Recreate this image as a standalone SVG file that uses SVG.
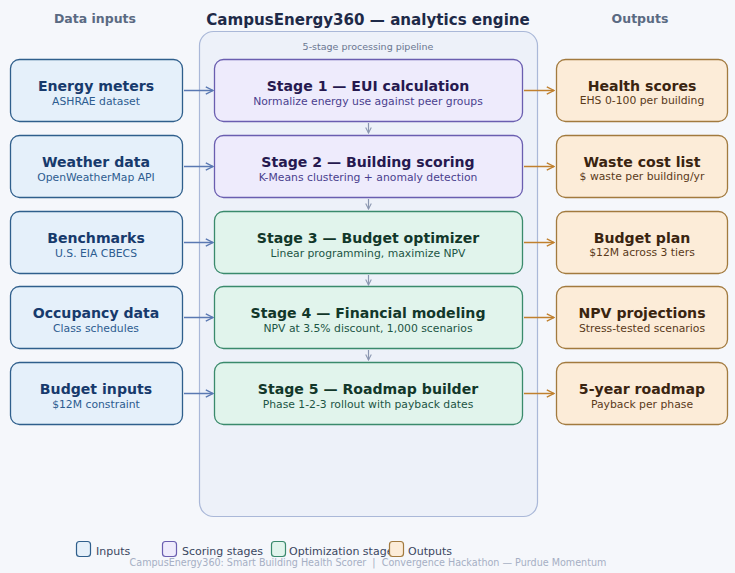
<svg xmlns="http://www.w3.org/2000/svg" width="735" height="573" viewBox="0 0 735 573">
<style>
text{font-family:"DejaVu Sans","Liberation Sans",sans-serif}
.hdr{font-size:12.5px;font-weight:bold;fill:#5a6a82;text-anchor:middle}
.ttl{font-size:15.1px;font-weight:bold;fill:#1e2a48;text-anchor:middle}
.t{font-size:14.1px;font-weight:bold;text-anchor:middle}
.s{font-size:10.8px;text-anchor:middle}
.inp rect{fill:#e5f0fa;stroke:#2f5f8c;stroke-width:1.3}
.inp .t{fill:#173a6c}.inp .s{fill:#2d5c90}
.sc rect{fill:#eeebfc;stroke:#6a5eb0;stroke-width:1.3}
.sc .t{fill:#26194f}.sc .s{fill:#4a3f8e}
.op rect{fill:#e1f4ec;stroke:#3a8a6c;stroke-width:1.3}
.op .t{fill:#12372a}.op .s{fill:#1c5544}
.out rect{fill:#fcecd8;stroke:#a27a3e;stroke-width:1.3}
.out .t{fill:#3a2410}.out .s{fill:#5a3a1a}
.ai{stroke:#5a78b2;stroke-width:1.5;fill:none}
.ao{stroke:#c0802e;stroke-width:1.5;fill:none}
.av{stroke:#8a96b0;stroke-width:1.2;fill:none}
.lg{font-size:11px;fill:#3a4660}
</style>
<defs>
<marker id="mi" viewBox="0 0 10 10" refX="9" refY="5" markerWidth="9" markerHeight="9" markerUnits="userSpaceOnUse" orient="auto"><path d="M1,1 L9,5 L1,9" fill="none" stroke="#5a78b2" stroke-width="1.5"/></marker>
<marker id="mo" viewBox="0 0 10 10" refX="9" refY="5" markerWidth="9" markerHeight="9" markerUnits="userSpaceOnUse" orient="auto"><path d="M1,1 L9,5 L1,9" fill="none" stroke="#c0802e" stroke-width="1.5"/></marker>
<marker id="mv" viewBox="0 0 10 10" refX="9" refY="5" markerWidth="7" markerHeight="7" markerUnits="userSpaceOnUse" orient="auto"><path d="M1,1 L9,5 L1,9" fill="none" stroke="#8a96b0" stroke-width="1.5"/></marker>
</defs>
<rect width="735" height="573" fill="#f5f7fb"/>
<text class="hdr" x="95" y="23">Data inputs</text>
<text class="ttl" x="368" y="25">CampusEnergy360 — analytics engine</text>
<text class="hdr" x="640" y="23">Outputs</text>
<g id="pipeline">
<rect x="199.5" y="31.5" width="338" height="485" rx="14" fill="#edf1f9" stroke="#aab8d8" stroke-width="1.2"/>
<text x="368" y="50" font-size="9.5" fill="#6a7690" text-anchor="middle">5-stage processing pipeline</text>
</g>
<g id="inputs">
<g id="in1" class="inp"><rect x="10.5" y="59.5" width="172" height="62" rx="9"/><text class="t" x="96" y="91">Energy meters</text><text class="s" x="96" y="105">ASHRAE dataset</text></g>
<g id="in2" class="inp"><rect x="10.5" y="135.5" width="172" height="62" rx="9"/><text class="t" x="96" y="167">Weather data</text><text class="s" x="96" y="181">OpenWeatherMap API</text></g>
<g id="in3" class="inp"><rect x="10.5" y="211.5" width="172" height="62" rx="9"/><text class="t" x="96" y="243">Benchmarks</text><text class="s" x="96" y="257">U.S. EIA CBECS</text></g>
<g id="in4" class="inp"><rect x="10.5" y="286.5" width="172" height="62" rx="9"/><text class="t" x="96" y="318">Occupancy data</text><text class="s" x="96" y="332">Class schedules</text></g>
<g id="in5" class="inp"><rect x="10.5" y="362.5" width="172" height="62" rx="9"/><text class="t" x="96" y="394">Budget inputs</text><text class="s" x="96" y="408">$12M constraint</text></g>
</g>
<g id="stages">
<g id="st1" class="sc"><rect x="214.5" y="59.5" width="308" height="62" rx="9"/><text class="t" x="368" y="91">Stage 1 — EUI calculation</text><text class="s" x="368" y="105">Normalize energy use against peer groups</text></g>
<g id="st2" class="sc"><rect x="214.5" y="135.5" width="308" height="62" rx="9"/><text class="t" x="368" y="167">Stage 2 — Building scoring</text><text class="s" x="368" y="181">K-Means clustering + anomaly detection</text></g>
<g id="st3" class="op"><rect x="214.5" y="211.5" width="308" height="62" rx="9"/><text class="t" x="368" y="243">Stage 3 — Budget optimizer</text><text class="s" x="368" y="257">Linear programming, maximize NPV</text></g>
<g id="st4" class="op"><rect x="214.5" y="286.5" width="308" height="62" rx="9"/><text class="t" x="368" y="318">Stage 4 — Financial modeling</text><text class="s" x="368" y="332">NPV at 3.5% discount, 1,000 scenarios</text></g>
<g id="st5" class="op"><rect x="214.5" y="362.5" width="308" height="62" rx="9"/><text class="t" x="368" y="394">Stage 5 — Roadmap builder</text><text class="s" x="368" y="408">Phase 1-2-3 rollout with payback dates</text></g>
</g>
<g id="outputs">
<g id="o1" class="out"><rect x="556.5" y="59.5" width="171" height="62" rx="9"/><text class="t" x="642" y="91">Health scores</text><text class="s" x="642" y="104">EHS 0-100 per building</text></g>
<g id="o2" class="out"><rect x="556.5" y="135.5" width="171" height="62" rx="9"/><text class="t" x="642" y="167">Waste cost list</text><text class="s" x="642" y="180">$ waste per building/yr</text></g>
<g id="o3" class="out"><rect x="556.5" y="211.5" width="171" height="62" rx="9"/><text class="t" x="642" y="243">Budget plan</text><text class="s" x="642" y="256">$12M across 3 tiers</text></g>
<g id="o4" class="out"><rect x="556.5" y="286.5" width="171" height="62" rx="9"/><text class="t" x="642" y="318">NPV projections</text><text class="s" x="642" y="332">Stress-tested scenarios</text></g>
<g id="o5" class="out"><rect x="556.5" y="362.5" width="171" height="62" rx="9"/><text class="t" x="642" y="394">5-year roadmap</text><text class="s" x="642" y="408">Payback per phase</text></g>
</g>
<g id="connectors">
<line class="ai" x1="184" y1="90.5" x2="213" y2="90.5" marker-end="url(#mi)"/>
<line class="ai" x1="184" y1="166.5" x2="213" y2="166.5" marker-end="url(#mi)"/>
<line class="ai" x1="184" y1="242.5" x2="213" y2="242.5" marker-end="url(#mi)"/>
<line class="ai" x1="184" y1="317.5" x2="213" y2="317.5" marker-end="url(#mi)"/>
<line class="ai" x1="184" y1="393.5" x2="213" y2="393.5" marker-end="url(#mi)"/>
<line class="ao" x1="524" y1="90.5" x2="554" y2="90.5" marker-end="url(#mo)"/>
<line class="ao" x1="524" y1="166.5" x2="554" y2="166.5" marker-end="url(#mo)"/>
<line class="ao" x1="524" y1="242.5" x2="554" y2="242.5" marker-end="url(#mo)"/>
<line class="ao" x1="524" y1="317.5" x2="554" y2="317.5" marker-end="url(#mo)"/>
<line class="ao" x1="524" y1="393.5" x2="554" y2="393.5" marker-end="url(#mo)"/>
<line class="av" x1="368.5" y1="123" x2="368.5" y2="133" marker-end="url(#mv)"/>
<line class="av" x1="368.5" y1="199" x2="368.5" y2="209" marker-end="url(#mv)"/>
<line class="av" x1="368.5" y1="275" x2="368.5" y2="285" marker-end="url(#mv)"/>
<line class="av" x1="368.5" y1="350" x2="368.5" y2="360" marker-end="url(#mv)"/>
</g>
<g id="legend">
<rect x="76.5" y="541.5" width="14" height="15" rx="3" fill="#e5f0fa" stroke="#2f5f8c" stroke-width="1.2"/>
<text class="lg" x="96" y="555">Inputs</text>
<rect x="162.5" y="541.5" width="14" height="15" rx="3" fill="#eeebfc" stroke="#6a5eb0" stroke-width="1.2"/>
<text class="lg" x="182" y="555">Scoring stages</text>
<rect x="271.5" y="541.5" width="14" height="15" rx="3" fill="#e1f4ec" stroke="#3a8a6c" stroke-width="1.2"/>
<text class="lg" x="289" y="555">Optimization stages</text>
<rect x="389.5" y="541.5" width="14" height="15" rx="3" fill="#fcecd8" stroke="#a27a3e" stroke-width="1.2"/>
<text class="lg" x="408" y="555">Outputs</text>
</g>
<text x="368" y="566" font-size="9.6" fill="#a6afc4" text-anchor="middle" xml:space="preserve">CampusEnergy360: Smart Building Health Scorer  |  Convergence Hackathon — Purdue Momentum</text>
</svg>
